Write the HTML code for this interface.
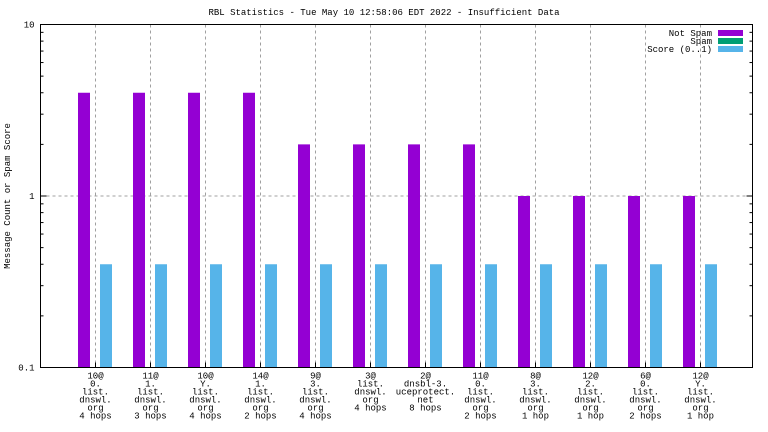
<!DOCTYPE html>
<html><head><meta charset="utf-8"><style>
body{margin:0;background:#fff}
svg{display:block}
text{font-family:"Liberation Mono","DejaVu Sans Mono",monospace;font-size:9px;fill:#000}
</style></head><body>
<svg id="chart" width="768" height="432">
<text x="384" y="15" text-anchor="middle">RBL Statistics - Tue May 10 12:58:06 EDT 2022 - Insufficient Data</text>
<text transform="translate(10,196) rotate(-90)" text-anchor="middle">Message Count or Spam Score</text>
<g id="grid"></g><g id="bars"></g><g id="axes"></g>
<g>
<text x="712" y="36" text-anchor="end">Not Spam</text>
<rect x="718" y="30" width="25" height="6" fill="#9400d3"/>
<text x="712" y="44" text-anchor="end">Spam</text>
<rect x="718" y="38" width="25" height="6" fill="#009e73"/>
<text x="712" y="52" text-anchor="end">Score (0..1)</text>
<rect x="718" y="46" width="25" height="6" fill="#56b4e9"/>
</g>
</svg>
<script>
const categories=[["10@","0.","list.","dnswl.","org","4 hops"],["11@","1.","list.","dnswl.","org","3 hops"],["10@","Y.","list.","dnswl.","org","4 hops"],["14@","1.","list.","dnswl.","org","2 hops"],["9@","3.","list.","dnswl.","org","4 hops"],["3@","list.","dnswl.","org","4 hops"],["2@","dnsbl-3.","uceprotect.","net","8 hops"],["11@","0.","list.","dnswl.","org","2 hops"],["8@","3.","list.","dnswl.","org","1 hop"],["12@","2.","list.","dnswl.","org","1 hop"],["6@","0.","list.","dnswl.","org","2 hops"],["12@","Y.","list.","dnswl.","org","1 hop"]];
const notSpam=[4,4,4,4,2,2,2,2,1,1,1,1];
const spam=[0,0,0,0,0,0,0,0,0,0,0,0];
const score=[0.4,0.4,0.4,0.4,0.4,0.4,0.4,0.4,0.4,0.4,0.4,0.4];
const yTicks=[0.1,1,10];
const yTickLabels=["0.1","1","10"];
const NS="http://www.w3.org/2000/svg";
const L=40.5,R=752.5,T=24.5,B=367.5;
function y(v){return B-(Math.log10(v)+1)/2*(B-T);}
function xc(i){return 95.5+i*55;}
function mk(p,tag,a){const e=document.createElementNS(NS,tag);for(const k in a)e.setAttribute(k,a[k]);p.appendChild(e);return e;}
const grid=document.getElementById('grid'),bars=document.getElementById('bars'),axes=document.getElementById('axes');
categories.forEach((c,i)=>{
 const g=mk(grid,'line',{x1:xc(i),x2:xc(i),y1:T,y2:B,stroke:'#a0a0a0','stroke-dasharray':'3,3'});
 
 
 const t=mk(axes,'line',{x1:xc(i),x2:xc(i),y1:B,y2:B-5,stroke:'#000'});
 
 
 c.forEach((s,j)=>{const tx=mk(axes,'text',{x:xc(i),y:B+11+j*8,'text-anchor':'middle'});tx.textContent=s;
  
  });
 if(notSpam[i]>0){const r=mk(bars,'rect',{x:xc(i)-17.5,y:y(notSpam[i]),width:12,height:B-y(notSpam[i]),fill:'#9400d3'});
  
  }
 if(spam[i]>0){const r=mk(bars,'rect',{x:xc(i)-5,y:y(spam[i]),width:10,height:B-y(spam[i]),fill:'#009e73'});
  
  }
 if(score[i]>0){const r=mk(bars,'rect',{x:xc(i)+4.5,y:y(score[i]),width:12,height:B-y(score[i]),fill:'#56b4e9'});
  
  }
});
yTicks.forEach((v,k)=>{
 if(v>0.1&&v<10){const g=mk(grid,'line',{x1:L,x2:R,y1:y(v),y2:y(v),stroke:'#a0a0a0','stroke-dasharray':'3,3'});
  
  }
 const t=mk(axes,'text',{x:L-6,y:y(v)+3,'text-anchor':'end'});t.textContent=yTickLabels[k];
 
 
 [L,R].forEach((xx,s)=>{const ln=mk(axes,'line',{x1:xx,x2:xx+(s?-6:6),y1:y(v),y2:y(v),stroke:'#000'});
  
  });
 if(v<10)for(let m=2;m<10;m++){[L,R].forEach((xx,s)=>{const ln=mk(axes,'line',{x1:xx,x2:xx+(s?-3:3),y1:y(v*m),y2:y(v*m),stroke:'#000'});
  
  });}
});
const fr=mk(axes,'rect',{x:L,y:T,width:R-L,height:B-T,fill:'none',stroke:'#000'});


</script>
</body></html>
